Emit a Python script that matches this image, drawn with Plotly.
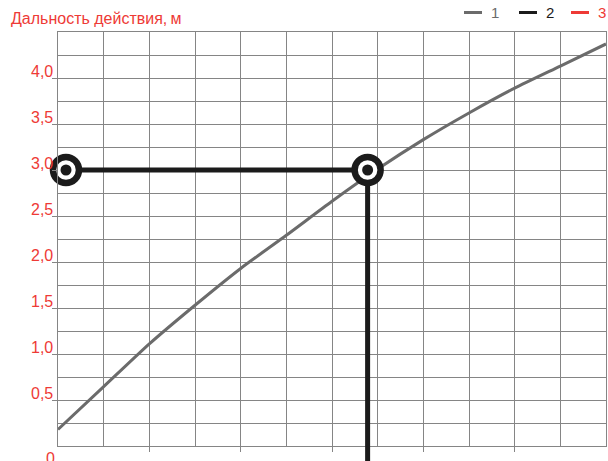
import plotly.graph_objects as go

# ---- data ----
x_vals = [0, 1, 2, 3, 4, 5, 6, 7, 8, 9, 10, 11, 12]
range_values = [0.18, 0.645, 1.11, 1.53, 1.93, 2.29, 2.66, 3.01, 3.33, 3.62, 3.89, 4.13, 4.37]
path_x = [0.175, 6.78, 6.78]
path_y = [3.0, 3.0, 0.0]
marker_x = [0.175, 6.78]
marker_y = [3.0, 3.0]
y_tick_vals = [0.5, 1.0, 1.5, 2.0, 2.5, 3.0, 3.5, 4.0]
y_tick_labels = ["0,5", "1,0", "1,5", "2,0", "2,5", "3,0", "3,5", "4,0"]
zero_label = "0"
x_tick_vals = [2, 4, 6, 8, 10]
legend_names = ["1", "2", "3"]
y_title = "Дальность действия,\u2009м"

RED = "#ee3a36"
GRAY = "#6b6b6b"
BLACK = "#1b1b1b"
GRID = "#858585"
FONT = "Liberation Sans, Arial, sans-serif"
legend_colors = [GRAY, BLACK, RED]

W, H = 608, 461
L, R, T, B = 58, 2, 32, 15
PW, PH = W - L - R, H - T - B


def px_x(px):
    return (px - L) / PW


def px_y(py):
    return (H - B - py) / PH


fig = go.Figure()

fig.add_trace(go.Scatter(x=x_vals, y=range_values, mode="lines",
                         line=dict(color=GRAY, width=3, shape="spline", smoothing=0.6),
                         name=legend_names[0], showlegend=False, hoverinfo="skip"))
fig.add_trace(go.Scatter(x=path_x, y=path_y, mode="lines",
                         line=dict(color=BLACK, width=5),
                         name=legend_names[1], showlegend=False, hoverinfo="skip"))
fig.add_trace(go.Scatter(x=marker_x, y=marker_y, mode="markers", showlegend=False,
                         marker=dict(symbol="circle", size=26, color="white",
                                     line=dict(color=BLACK, width=6.5)),
                         cliponaxis=False, hoverinfo="skip"))
fig.add_trace(go.Scatter(x=marker_x, y=marker_y, mode="markers", showlegend=False,
                         marker=dict(symbol="circle", size=11, color=BLACK),
                         cliponaxis=False, hoverinfo="skip"))

# continuation of the vertical black line below the axis
fig.add_shape(type="line", xref="x", yref="paper", x0=path_x[-1], x1=path_x[-1],
              y0=0, y1=-0.2, line=dict(color=BLACK, width=5), layer="above")

# legend (compact, top right)
leg_line_starts = [464, 519, 571]
for name, col, x0 in zip(legend_names, legend_colors, leg_line_starts):
    fig.add_shape(type="line", xref="paper", yref="paper",
                  x0=px_x(x0), x1=px_x(x0 + 18), y0=px_y(12.5), y1=px_y(12.5),
                  line=dict(color=col, width=3))
    fig.add_annotation(x=px_x(x0 + 25), xref="paper", y=px_y(12), yref="paper",
                       text=name, showarrow=False, xanchor="left", yanchor="middle",
                       font=dict(color=col, size=15, family=FONT))

# y tick labels
for v, t in zip(y_tick_vals, y_tick_labels):
    fig.add_annotation(x=0, xref="paper", y=v, yref="y", text=t, showarrow=False,
                       xanchor="right", yanchor="middle", xshift=-3, yshift=7,
                       font=dict(color=RED, size=16, family=FONT))
fig.add_annotation(x=0, xref="paper", y=0, yref="y", text=zero_label, showarrow=False,
                   xanchor="right", yanchor="middle", xshift=-1, yshift=-12,
                   font=dict(color=RED, size=16, family=FONT))

# axis title at top left
fig.add_annotation(x=px_x(9), xref="paper", y=px_y(18), yref="paper", text=y_title,
                   showarrow=False, xanchor="left", yanchor="middle",
                   font=dict(color=RED, size=16, family=FONT))

fig.update_layout(
    width=W, height=H,
    margin=dict(l=L, r=R, t=T, b=B, pad=0, autoexpand=False),
    paper_bgcolor="white", plot_bgcolor="white",
    font=dict(family=FONT, size=14, color=GRAY),
    showlegend=False,
)
fig.update_xaxes(range=[0, 12], showgrid=True, gridcolor=GRID, gridwidth=1,
                 tickvals=x_tick_vals, ticks="outside", ticklen=5, tickcolor=GRID,
                 showticklabels=False, zeroline=False,
                 showline=True, linecolor=GRID, linewidth=1, mirror=True,
                 minor=dict(dtick=1, tick0=0, showgrid=True, gridcolor=GRID, gridwidth=1))
fig.update_yaxes(range=[0, 4.5], showgrid=True, gridcolor=GRID, gridwidth=1,
                 tickvals=y_tick_vals, ticks="outside", ticklen=5, tickcolor=GRID,
                 showticklabels=False, zeroline=False,
                 showline=True, linecolor=GRID, linewidth=1, mirror=True,
                 minor=dict(dtick=0.25, tick0=0, showgrid=True, gridcolor=GRID, gridwidth=1))

fig.write_html("out.html", config={"displayModeBar": False, "staticPlot": True},
               post_script="document.body.style.margin='0';document.body.style.overflow='hidden';")
